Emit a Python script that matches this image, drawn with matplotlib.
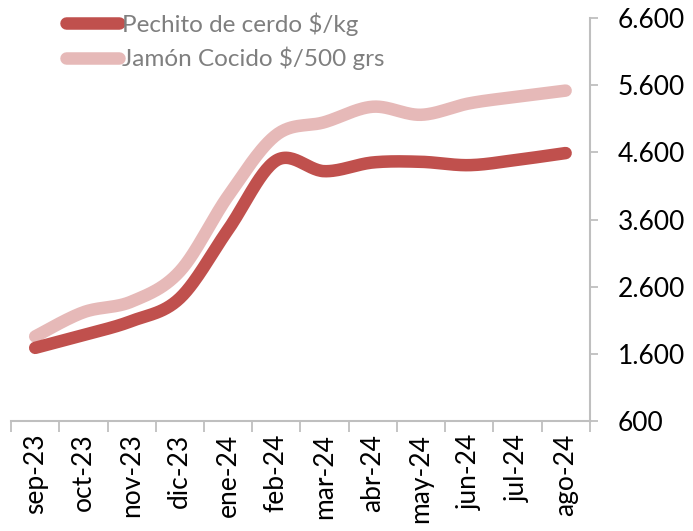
import numpy as np
import matplotlib
matplotlib.use("Agg")
import matplotlib.pyplot as plt
from matplotlib.ticker import FixedLocator, FuncFormatter

plt.rcParams['font.family'] = ['Lato', 'DejaVu Sans']

meses = ['sep-23', 'oct-23', 'nov-23', 'dic-23', 'ene-24', 'feb-24',
         'mar-24', 'abr-24', 'may-24', 'jun-24', 'jul-24', 'ago-24']
pechito = [1690, 1880, 2090, 2430, 3450, 4480, 4320, 4450, 4460, 4410, 4490, 4590]
jamon = [1860, 2220, 2380, 2830, 3950, 4860, 5050, 5280, 5160, 5330, 5430, 5520]

rojo = '#C0504D'
rosa = '#E6B9B8'
gris = '#BFBFBF'


def suavizar(xs, ys, n=30):
    # curva tipo Excel (Catmull-Rom -> Bezier)
    px = np.asarray(xs, float)
    py = np.asarray(ys, float)
    px = np.concatenate([[px[0]], px, [px[-1]]])
    py = np.concatenate([[py[0]], py, [py[-1]]])
    t = np.linspace(0, 1, n)
    ox, oy = [], []
    for i in range(1, len(px) - 2):
        p0 = np.array([px[i], py[i]])
        p3 = np.array([px[i + 1], py[i + 1]])
        c1 = p0 + (p3 - np.array([px[i - 1], py[i - 1]])) / 6
        c2 = p3 - (np.array([px[i + 2], py[i + 2]]) - p0) / 6
        b = ((1 - t) ** 3)[:, None] * p0 + (3 * (1 - t) ** 2 * t)[:, None] * c1 \
            + (3 * (1 - t) * t ** 2)[:, None] * c2 + (t ** 3)[:, None] * p3
        ox.extend(b[:, 0])
        oy.extend(b[:, 1])
    return ox, oy


fig = plt.figure(figsize=(6.93, 5.31), dpi=100)
ax = fig.add_axes([0.016, 0.207, 0.835, 0.759])

x = np.arange(len(meses))
sx, sy = suavizar(x, pechito)
ax.plot(sx, sy, color=rojo, lw=9, solid_capstyle='round', label='Pechito de cerdo $/kg')
sx, sy = suavizar(x, jamon)
ax.plot(sx, sy, color=rosa, lw=9, solid_capstyle='round', label='Jamón Cocido $/500 grs', zorder=1)

ax.set_xlim(-0.5, len(meses) - 0.5)
ax.set_ylim(600, 6600)

ax.yaxis.tick_right()
ax.set_yticks(np.arange(600, 6601, 1000))
ax.yaxis.set_major_formatter(FuncFormatter(lambda v, p: f'{int(v):,}'.replace(',', '.')))
ax.tick_params(axis='y', length=6, width=1.3, color=gris, labelsize=19, pad=14)

ax.xaxis.set_major_locator(FixedLocator(np.arange(-0.5, len(meses), 1)))
ax.xaxis.set_minor_locator(FixedLocator(x))
ax.set_xticklabels([], minor=False)
ax.set_xticklabels(meses, minor=True, rotation=90)
ax.tick_params(axis='x', which='major', length=8, width=1.3, color=gris)
ax.tick_params(axis='x', which='minor', length=0, labelsize=19, pad=9)

for s in ['top', 'left']:
    ax.spines[s].set_visible(False)
for s in ['right', 'bottom']:
    ax.spines[s].set_color(gris)
    ax.spines[s].set_linewidth(1.5)

h, l = ax.get_legend_handles_labels()
leg = fig.legend(h, l, loc='upper left', bbox_to_anchor=(0.077, 1.0), frameon=False,
                 fontsize=17.5, handlelength=2.2, handletextpad=0.12, labelspacing=0.45,
                 borderaxespad=0.1)
for t in leg.get_texts():
    t.set_color('#7F7F7F')

fig.savefig('out.png', dpi=100)
